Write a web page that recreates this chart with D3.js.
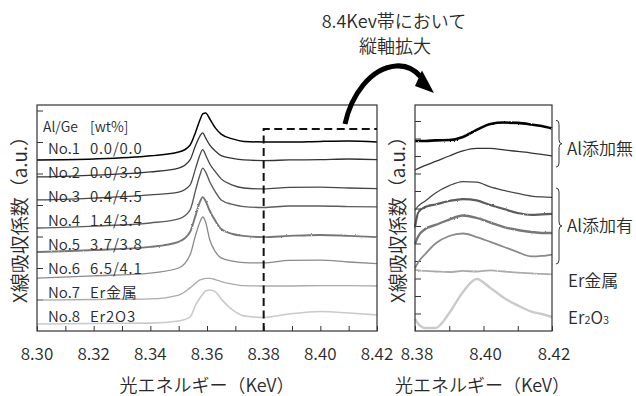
<!DOCTYPE html>
<html><head><meta charset="utf-8">
<script src="https://cdn.jsdelivr.net/npm/d3@7"></script>
<style>
body{margin:0;background:#fff}
text{font-family:"Noto Sans CJK JP","Noto Sans",sans-serif;fill:#2a2a2a;font-weight:350}
</style>
</head><body>
<svg id="c" width="636" height="396">
  <defs>
    <filter id="noise" x="-5%" y="-20%" width="110%" height="140%">
      <feTurbulence type="fractalNoise" baseFrequency="0.7" numOctaves="1" seed="3" result="t"/>
      <feDisplacementMap in="SourceGraphic" in2="t" scale="2.2" xChannelSelector="R" yChannelSelector="G"/>
    </filter>
  </defs>
</svg>
<script>
// ---------- data ----------
const energyLeft = [8.300, 8.320, 8.340, 8.350, 8.354, 8.356, 8.3575, 8.3585, 8.3595, 8.361, 8.363, 8.365, 8.369, 8.373, 8.380, 8.389, 8.400, 8.410, 8.420];
const leftNo1 = [5.43,5.46,5.56,5.68,5.90,6.32,6.70,6.89,6.92,6.73,6.44,6.25,6.10,6.02,6.00,6.00,6.02,6.03,6.00];
const leftNo2 = [4.89,4.95,5.05,5.17,5.43,5.90,6.19,6.29,6.13,5.90,5.71,5.57,5.48,5.43,5.41,5.43,5.44,5.46,5.44];
const leftNo3 = [4.16,4.22,4.32,4.41,4.63,5.17,5.59,5.76,5.59,5.30,5.05,4.83,4.63,4.54,4.51,4.56,4.57,4.54,4.52];
const leftNo4 = [3.27,3.33,3.43,3.56,3.84,4.48,4.95,5.17,5.05,4.73,4.41,4.16,4.02,3.95,3.92,3.97,3.97,3.95,3.94];
const leftNo5 = [2.51,2.57,2.67,2.83,3.14,3.68,4.10,4.25,4.13,3.81,3.49,3.24,3.08,3.02,2.98,3.02,3.05,3.02,2.98];
const leftNo6 = [1.68,1.75,1.84,2.00,2.41,3.05,3.46,3.62,3.46,2.89,2.51,2.32,2.22,2.17,2.16,2.24,2.25,2.19,2.14];
const leftNo7 = [0.98,1.00,1.02,1.14,1.37,1.52,1.62,1.65,1.67,1.67,1.63,1.57,1.49,1.44,1.43,1.43,1.44,1.44,1.43];
const leftNo8 = [0.22,0.24,0.25,0.32,0.44,0.83,1.05,1.17,1.27,1.30,1.24,1.02,0.67,0.48,0.43,0.54,0.62,0.57,0.51];

const energyRight = [8.380, 8.381, 8.383, 8.386, 8.390, 8.394, 8.398, 8.402, 8.406, 8.410, 8.414, 8.417, 8.420];
const rightNo1 = [10.86,10.86,10.86,10.89,10.91,11.09,11.49,11.83,11.91,11.89,11.80,11.71,11.57];
const rightNo2 = [9.20,9.29,9.46,9.69,10.00,10.29,10.43,10.43,10.35,10.26,10.17,10.09,10.00];
const rightNo3 = [6.91,7.15,7.43,7.89,8.31,8.54,8.51,8.23,8.03,7.86,7.71,7.66,7.63];
const rightNo4 = [5.94,6.80,7.09,7.23,7.43,7.54,7.46,7.20,6.97,6.74,6.63,6.66,6.69];
const rightNo5 = [4.97,5.43,5.83,6.06,6.37,6.60,6.46,6.20,5.94,5.77,5.66,5.60,5.60];
const rightNo6 = [3.60,3.94,4.40,5.00,5.43,5.57,5.37,5.09,4.80,4.51,4.26,4.29,4.37];
const rightNo7 = [3.49,3.46,3.43,3.40,3.37,3.43,3.40,3.46,3.40,3.34,3.29,3.26,3.23];
const rightNo8 = [0.69,0.40,0.17,0.17,1.03,2.23,2.97,2.46,1.89,1.46,1.11,0.97,0.80];

const sampleNames = ["No.1","No.2","No.3","No.4","No.5","No.6","No.7","No.8"];
const sampleComp = ["0.0/0.0","0.0/3.9","0.4/4.5","1.4/3.4","3.7/3.8","6.5/4.1","Er金属","Er2O3"];
const leftTicksX = [8.30,8.32,8.34,8.36,8.38,8.40,8.42];
const rightTicksX = [8.38,8.40,8.42];

// ---------- style ----------
const colors = ["#000","#333","#474747","#5c5c5c","#777","#8a8a8a","#ababab","#cacaca"];
const widthsL = [1.5,1.3,1.3,1.4,1.9,1.3,1.4,1.6];
const widthsR = [2.6,1.3,1.3,2.2,2.4,1.8,1.8,2.4];
const noisyL = [false,false,false,false,true,false,false,false];
const noisyR = [true,false,false,true,true,false,true,false];

const svg = d3.select("#c");
const leftSeries = [leftNo1,leftNo2,leftNo3,leftNo4,leftNo5,leftNo6,leftNo7,leftNo8];
const rightSeries = [rightNo1,rightNo2,rightNo3,rightNo4,rightNo5,rightNo6,rightNo7,rightNo8];

const L = {x0:37,x1:377,y0:105,y1:331};
const R = {x0:415,x1:552,y0:105,y1:331};
const xL = d3.scaleLinear().domain([8.30,8.42]).range([L.x0,L.x1]);
const yL = d3.scaleLinear().domain([0,7.175]).range([L.y1,L.y0]);
const xR = d3.scaleLinear().domain([8.38,8.42]).range([R.x0,R.x1]);
const yR = d3.scaleLinear().domain([0,12.914]).range([R.y1,R.y0]);

function panel(P, x, y, xMinor, yTicks){
  const g = svg.append("g");
  g.append("g").attr("transform",`translate(0,${P.y1})`)
   .call(d3.axisBottom(x).tickValues(xMinor).tickSizeInner(-5).tickSizeOuter(0).tickFormat(""))
   .call(s=>{s.select(".domain").remove(); s.selectAll("line").attr("stroke","#333");});
  g.append("g").attr("transform",`translate(${P.x0},0)`)
   .call(d3.axisLeft(y).tickValues(yTicks).tickSizeInner(-6).tickSizeOuter(0).tickFormat(""))
   .call(s=>{s.select(".domain").remove(); s.selectAll("line").attr("stroke","#333");});
  return g;
}
panel(L, xL, yL, d3.range(13).map(i=>8.30+i*0.01), d3.range(1,8));
panel(R, xR, yR, d3.range(5).map(i=>8.38+i*0.01), d3.range(1,13));

// curves
const lineL = d3.line().x((d,i)=>xL(energyLeft[i])).y(d=>yL(d)).curve(d3.curveMonotoneX);
const lineR = d3.line().x((d,i)=>xR(energyRight[i])).y(d=>yR(d)).curve(d3.curveMonotoneX);
for(let i=7;i>=0;i--){
  const p = svg.append("path").attr("d",lineL(leftSeries[i])).attr("fill","none").attr("stroke",colors[i])
    .attr("stroke-width",widthsL[i]).attr("stroke-linejoin","round");
  if(noisyL[i]) p.attr("filter","url(#noise)");
}
for(let i=7;i>=0;i--){
  const p = svg.append("path").attr("d",lineR(rightSeries[i])).attr("fill","none").attr("stroke",colors[i])
    .attr("stroke-width",widthsR[i]).attr("stroke-linejoin","round");
  if(noisyR[i]) p.attr("filter","url(#noise)");
}

// frames
[L,R].forEach(P=>svg.append("rect").attr("x",P.x0).attr("y",P.y0).attr("width",P.x1-P.x0).attr("height",P.y1-P.y0)
  .attr("fill","none").attr("stroke","#333").attr("stroke-width",1.2));

// dashed zoom box
const dashY = yL(6.41);
svg.append("path").attr("d",`M${xL(8.38)},${L.y1}V${dashY}H${xL(8.42)}`)
  .attr("fill","none").attr("stroke","#111").attr("stroke-width",2).attr("stroke-dasharray","8,4.5");

// tick labels
svg.selectAll(".tl").data(leftTicksX).join("text").attr("x",d=>xL(d)).attr("y",352)
  .attr("text-anchor","middle").attr("dominant-baseline","central").attr("font-size",17).attr("font-weight",400).text(d=>d.toFixed(2));
svg.selectAll(".tr").data(rightTicksX).join("text").attr("x",d=>xR(d)+2).attr("y",352)
  .attr("text-anchor","middle").attr("dominant-baseline","central").attr("font-size",17).attr("font-weight",400).text(d=>d.toFixed(2));

// axis titles
[(L.x0+L.x1)/2, (R.x0+R.x1)/2-1].forEach(cx=>{
  svg.append("text").attr("x",cx).attr("y",384).attr("text-anchor","middle").attr("dominant-baseline","central")
    .attr("font-size",18).attr("font-weight",400).attr("fill","#111").text("光エネルギー（KeV）");
});
[18, 396].forEach(cx=>{
  svg.append("text").attr("transform",`translate(${cx},215) rotate(-90)`).attr("text-anchor","middle")
    .attr("dominant-baseline","central").attr("font-size",19).attr("font-weight",400).attr("fill","#111").text("X線吸収係数（a.u.）");
});

// legend inside left panel
svg.append("text").attr("x",43).attr("y",126).attr("dominant-baseline","central").attr("font-size",14).text("Al/Ge");
svg.append("text").attr("x",90).attr("y",126).attr("dominant-baseline","central").attr("font-size",14).text("[wt%]");
sampleNames.forEach((n,i)=>{
  const yy = 147 + i*24;
  svg.append("text").attr("x",48).attr("y",yy).attr("dominant-baseline","central").attr("font-size",15).text(n);
  svg.append("text").attr("x",90).attr("y",yy).attr("dominant-baseline","central").attr("font-size",15).attr("letter-spacing",0.8).text(sampleComp[i]);
});

// right annotations with braces
function brace(x, yt, yb){
  const w=3, r=4, m=(yt+yb)/2;
  return `M${x},${yt} Q${x+w},${yt} ${x+w},${yt+r} L${x+w},${m-r} Q${x+w},${m} ${x+2*w},${m} Q${x+w},${m} ${x+w},${m+r} L${x+w},${yb-r} Q${x+w},${yb} ${x},${yb}`;
}
svg.append("path").attr("d",brace(556, yR(12.04), yR(9.37))).attr("fill","none").attr("stroke","#333").attr("stroke-width",1);
svg.append("path").attr("d",brace(556, yR(8.17), yR(3.83))).attr("fill","none").attr("stroke","#333").attr("stroke-width",1);
svg.append("text").attr("x",567).attr("y",yR(10.46)).attr("dominant-baseline","central").attr("font-size",17).text("Al添加無");
svg.append("text").attr("x",567).attr("y",yR(6.11)).attr("dominant-baseline","central").attr("font-size",17).text("Al添加有");
svg.append("text").attr("x",568).attr("y",yR(2.97)).attr("dominant-baseline","central").attr("font-size",17).text("Er金属");
const eo = svg.append("text").attr("x",568).attr("y",yR(0.86)).attr("dominant-baseline","central").attr("font-size",17);
eo.append("tspan").text("Er");
eo.append("tspan").attr("font-size",11).attr("dy",3).text("2");
eo.append("tspan").attr("font-size",17).attr("dy",-3).text("O");
eo.append("tspan").attr("font-size",11).attr("dy",3).text("3");

// top annotation + arrow
svg.append("text").attr("x",394).attr("y",20).attr("text-anchor","middle").attr("dominant-baseline","central").attr("font-size",18).text("8.4Kev帯において");
svg.append("text").attr("x",395).attr("y",45).attr("text-anchor","middle").attr("dominant-baseline","central").attr("font-size",18).text("縦軸拡大");
svg.append("path").attr("d","M345,124 C351,96 370,68 396,66 C407,65 415,70 421,77")
  .attr("fill","none").attr("stroke","#000").attr("stroke-width",5);
svg.append("path").attr("d","M415,86 L422,70.5 L434,93 Z").attr("fill","#000");
</script>
</body></html>
